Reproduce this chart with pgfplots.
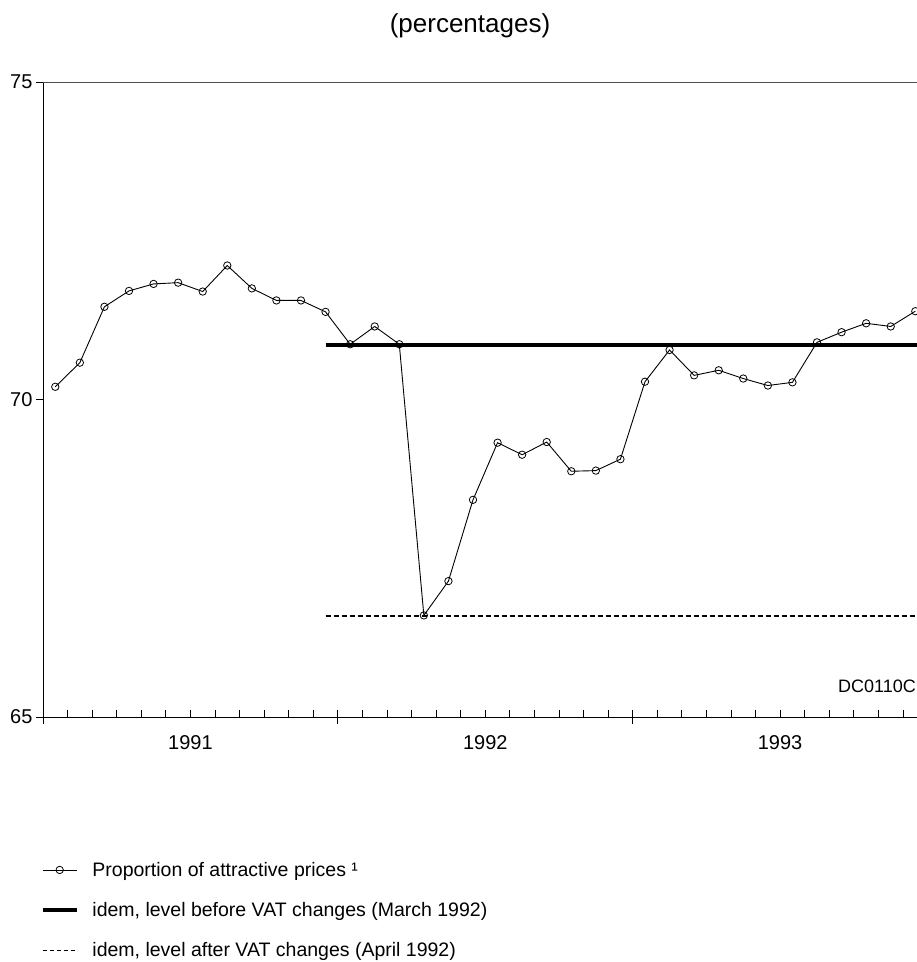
\documentclass[border=0pt]{standalone}
\usepackage{fontspec}
\setmainfont{Liberation Sans}
\usepackage{pgfplots}
\pgfplotsset{compat=1.18}
\begin{document}
\begin{tikzpicture}
\begin{axis}[
  at={(43bp,245bp)}, anchor=south west,
  width=874bp, height=635bp, scale only axis,
  xmin=0, xmax=35.57, ymin=65, ymax=75,
  axis x line*=bottom, axis y line*=left,
  axis line style={line width=1bp, black, -},
  /pgf/number format/assume math mode=true,
  tick label style={font=\fontsize{20bp}{24bp}\selectfont},
  ytick={65,70,75}, ytick align=outside,
  major tick length=7bp, minor tick length=7bp,
  every tick/.style={black, line width=0.9bp},
  xtick={0,12,24}, xticklabels={1991,1992,1993},
  xtick align=inside,
  xticklabel style={xshift=147.4bp, yshift=-15bp},
  minor xtick={1,...,35},
  extra x ticks={0,12,24}, extra x tick labels={},
  extra x tick style={xtick align=outside, tick align=outside},
  legend style={draw=none, fill=none, at={(-0.006,-0.222)}, anchor=north west,
    font=\fontsize{19.5bp}{23bp}\selectfont, row sep=20.5bp},
  legend cell align=left,
  legend image code/.code={\draw[mark repeat=2,mark phase=2,#1] plot coordinates {(0bp,0bp)(17bp,0bp)(34bp,0bp)}; \path (46bp,0bp);},
]
\addplot[black, line width=4bp, forget plot] coordinates {(11.5,70.86) (35.57,70.86)};
\addplot[black, line width=1.3bp, dash pattern=on 5bp off 3bp, forget plot] coordinates {(11.5,66.59) (35.57,66.59)};
\addplot[black, line width=0.9bp, mark=o, mark size=3.7bp, mark options={fill=white, line width=0.8bp, solid}] coordinates {
(0.5,70.20) (1.5,70.58) (2.5,71.46) (3.5,71.71) (4.5,71.82) (5.5,71.84)
(6.5,71.70) (7.5,72.11) (8.5,71.75) (9.5,71.56) (10.5,71.56) (11.5,71.38)
(12.5,70.87) (13.5,71.15) (14.5,70.87) (15.5,66.60) (16.5,67.14) (17.5,68.42)
(18.5,69.32) (19.5,69.13) (20.5,69.33) (21.5,68.87) (22.5,68.88) (23.5,69.06)
(24.5,70.28) (25.5,70.78) (26.5,70.38) (27.5,70.46) (28.5,70.33) (29.5,70.22)
(30.5,70.27) (31.5,70.90) (32.5,71.06) (33.5,71.20) (34.5,71.15) (35.5,71.39)
};
\addlegendentry{Proportion of attractive prices ¹}
\addlegendimage{black, line width=3.5bp}
\addlegendentry{idem, level before VAT changes (March 1992)}
\addlegendimage{black, line width=1bp, dash pattern=on 4bp off 3bp}
\addlegendentry{idem, level after VAT changes (April 1992)}
\draw[black!70, line width=0.9bp] (rel axis cs:0,1) -- (rel axis cs:1,1);
\end{axis}
\node[font=\fontsize{26bp}{30bp}\selectfont] at (470bp,936bp) {(percentages)};
\node[font=\fontsize{18bp}{22bp}\selectfont, anchor=base east, inner sep=0pt] at (916bp,269bp) {DC0110C};
\pgfresetboundingbox
\useasboundingbox (0,0) rectangle (917bp,962bp);
\end{tikzpicture}
\end{document}
